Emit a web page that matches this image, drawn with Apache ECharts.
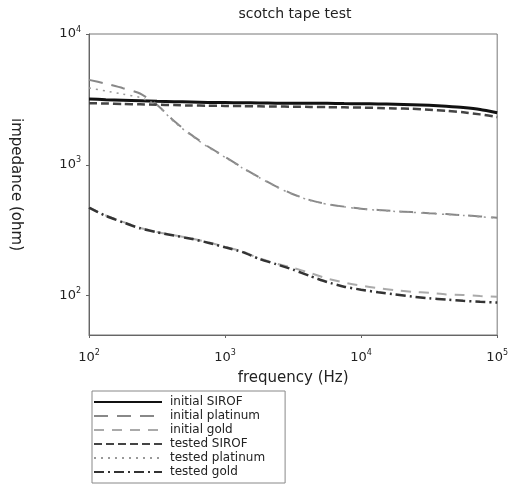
<!DOCTYPE html>
<html>
<head>
<meta charset="utf-8">
<title>scotch tape test</title>
<script src="https://cdn.jsdelivr.net/npm/echarts@6/dist/echarts.min.js"></script>
<style>
  html, body { margin: 0; padding: 0; background: #fff; }
  #chart { width: 511px; height: 492px; }
</style>
</head>
<body>
<div id="chart"></div>
<script>
// frequency points (Hz), 8 per decade
const freq = [100, 133, 178, 237, 316, 422, 562, 750, 1000, 1334, 1778, 2371, 3162,
  4217, 5623, 7499, 10000, 13335, 17783, 23714, 31623, 42170, 56234, 74989, 100000];

// impedance (ohm)
const initialSirof = [3190, 3150, 3120, 3090, 3060, 3040, 3020, 3000, 2990, 2980, 2970, 2960, 2960,
  2950, 2950, 2940, 2930, 2920, 2900, 2880, 2850, 2800, 2740, 2650, 2500];
const initialPlatinum = [4460, 4170, 3850, 3510, 2880, 2160, 1700, 1380, 1150, 955, 804, 684, 596,
  537, 501, 479, 462, 452, 442, 435, 427, 420, 412, 403, 394];
const initialGold = [472, 410, 366, 330, 307, 290, 274, 256, 236, 218, 193, 176, 163,
  149, 135, 126, 119, 114, 110, 107, 105, 102, 101, 99.3, 98];
const testedSirof = [2960, 2940, 2920, 2900, 2880, 2860, 2840, 2830, 2820, 2810, 2800, 2790, 2780,
  2770, 2760, 2750, 2740, 2720, 2700, 2680, 2640, 2590, 2520, 2430, 2320];
const testedPlatinum = [3870, 3670, 3470, 3270, 2850, 2130, 1680, 1365, 1140, 948, 800, 680, 593,
  534, 499, 477, 460, 450, 440, 433, 425, 418, 410, 401, 392];
const testedGold = [470, 407, 363, 327, 305, 288, 272, 254, 234, 216, 191, 174, 158,
  141, 127, 117, 111, 106, 102, 98.4, 95.5, 93.3, 91.2, 89.7, 88.5];

const seriesNames = ['initial SIROF', 'initial platinum', 'initial gold',
  'tested SIROF', 'tested platinum', 'tested gold'];

const FONT = 'DejaVu Sans';

// label like 10 with the exponent raised
function powLabel(v) {
  const e = Math.round(Math.log10(v));
  if (Math.abs(Math.log10(v) - e) > 1e-6) return '';
  return '{b|10}{s|' + e + '}';
}
const powRich = {
  b: { fontFamily: FONT, fontSize: 13, color: '#222' },
  s: { fontFamily: FONT, fontSize: 8, color: '#222', verticalAlign: 'bottom', padding: [0, 0, 9, 0] }
};

function pairs(vals) {
  return freq.map((f, i) => [f, vals[i]]);
}

function makeSeries(name, vals, color, width, type) {
  return {
    name: name,
    type: 'line',
    data: pairs(vals),
    smooth: 0.2,
    symbol: 'none',
    lineStyle: { color: color, width: width, type: type },
    itemStyle: { color: color },
    z: 3
  };
}

const chart = echarts.init(document.getElementById('chart'));

const option = {
  animation: false,
  backgroundColor: '#fff',
  title: {
    text: 'scotch tape test',
    left: 290,
    top: 2,
    textAlign: 'center',
    textStyle: { fontFamily: FONT, fontSize: 14, fontWeight: 'normal', color: '#222' }
  },
  grid: {
    left: 82, right: 13, top: 34, bottom: 157,
    show: true, borderColor: '#777', borderWidth: 1, backgroundColor: 'transparent'
  },
  legend: {
    orient: 'vertical',
    left: 92,
    top: 391,
    width: 196,
    data: seriesNames,
    itemWidth: 68,
    itemHeight: 14,
    itemGap: 2,
    padding: [5, 20, 5, 1],
    borderColor: '#888',
    borderWidth: 1,
    itemStyle: { opacity: 0 },
    textStyle: { fontFamily: FONT, fontSize: 12, color: '#222', padding: [0, 0, 0, 3] }
  },
  xAxis: {
    type: 'log',
    logBase: 10,
    min: 100,
    max: 100000,
    name: 'frequency (Hz)',
    nameLocation: 'middle',
    nameGap: 36,
    nameTextStyle: { fontFamily: FONT, fontSize: 15, color: '#222' },
    axisLine: { show: true, lineStyle: { color: '#666', width: 1 } },
    axisTick: { show: true, length: 3, lineStyle: { color: '#666' } },
    axisLabel: { margin: 14, formatter: powLabel, rich: powRich },
    splitLine: { show: false }
  },
  yAxis: {
    type: 'log',
    logBase: 10,
    min: 50,
    max: 10000,
    name: 'impedance (ohm)',
    nameLocation: 'middle',
    nameRotate: -90,
    nameGap: 66,
    nameTextStyle: { fontFamily: FONT, fontSize: 15, color: '#222' },
    axisLine: { show: true, lineStyle: { color: '#666', width: 1 } },
    axisTick: { show: true, length: 3, lineStyle: { color: '#666' } },
    axisLabel: { margin: 8, formatter: powLabel, rich: powRich, showMinLabel: false },
    splitLine: { show: false }
  },
  series: [
    makeSeries(seriesNames[0], initialSirof, '#111', 3, 'solid'),
    makeSeries(seriesNames[1], initialPlatinum, '#888', 2, [14, 9]),
    makeSeries(seriesNames[2], initialGold, '#aaa', 2, [10, 8]),
    makeSeries(seriesNames[3], testedSirof, '#444', 2.5, [8, 4]),
    makeSeries(seriesNames[4], testedPlatinum, '#999', 1.5, [2, 5]),
    makeSeries(seriesNames[5], testedGold, '#333', 2.5, [10, 4, 2, 4])
  ]
};

chart.setOption(option);
</script>
</body>
</html>
